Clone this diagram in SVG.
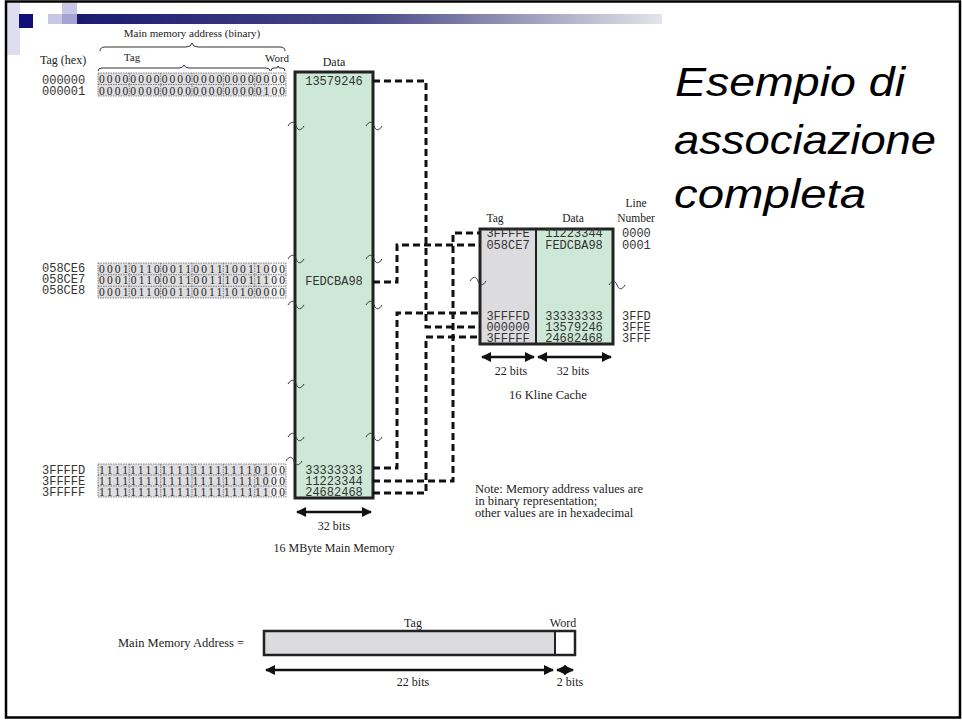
<svg xmlns="http://www.w3.org/2000/svg" width="962" height="720" viewBox="0 0 962 720">
<defs>
<linearGradient id="hbar" x1="0" y1="0" x2="1" y2="0">
<stop offset="0" stop-color="#1a1a70"/>
<stop offset="0.5" stop-color="#4a4a88"/>
<stop offset="1" stop-color="#e4e4ea"/>
</linearGradient>
<marker id="ah" viewBox="0 0 10 10" refX="9" refY="5" markerWidth="4" markerHeight="4" orient="auto-start-reverse" markerUnits="strokeWidth">
<path d="M0,0 L10,5 L0,10 Z" fill="#111"/>
</marker>
<path id="tl" d="M-8,1 c3,-5 6,-5 8,0 s5,5 8,0"/>
</defs>
<style>
.serif{font-family:"Liberation Serif","DejaVu Serif",serif;fill:#222}
.mono{font-family:"Liberation Mono","DejaVu Sans Mono",monospace;fill:#333;font-size:12px}
.bin{font-family:"Liberation Serif","DejaVu Serif",serif;fill:#222;font-size:11.5px}
.cell{fill:none;stroke:#555;stroke-width:0.7;stroke-dasharray:1.5 1}
.bfill{fill:#dedee0}
.wfill{fill:#f2f2f2}
.col{stroke:#222;stroke-width:3}
.green{fill:#cde8d6}
.gray{fill:#dcdcdf}
.dash{fill:none;stroke:#111;stroke-width:3;stroke-dasharray:7 4}
.arrow{stroke:#111;stroke-width:2.5;marker-start:url(#ah);marker-end:url(#ah);fill:none}
.tilde{fill:none;stroke:#333;stroke-width:1}
.brace{fill:none;stroke:#333;stroke-width:1}
.title{font-family:"Liberation Sans",Arial,sans-serif;font-style:italic;font-size:40px;fill:#000}
</style>
<rect x="0" y="0" width="962" height="720" fill="#fff"/>
<g id="header">
<rect x="7" y="3" width="13" height="52" fill="#dedef0"/>
<rect x="48" y="14" width="14" height="10" fill="#c8c8e6"/>
<rect x="62" y="3" width="15" height="11" fill="#c8c8e6"/>
<rect x="62" y="14" width="15" height="10" fill="#a4a4d4"/>
<rect x="19" y="14" width="14" height="14" fill="#10107a"/>
<rect x="77" y="14" width="585" height="10" fill="url(#hbar)"/>
</g>
<rect x="6" y="1.5" width="954" height="716" fill="none" stroke="#000" stroke-width="2.5"/>

<g id="title">
<text class="title" x="675" y="96" textLength="230" lengthAdjust="spacingAndGlyphs">Esempio di</text>
<text class="title" x="674" y="154" textLength="262" lengthAdjust="spacingAndGlyphs">associazione</text>
<text class="title" x="674" y="208" textLength="192" lengthAdjust="spacingAndGlyphs">completa</text>
</g>

<g id="labels-top">
<text class="serif" x="192" y="37" font-size="11" text-anchor="middle">Main memory address (binary)</text>
<path class="brace" d="M100,51 q0,-4 5,-4 H186 q5,0 6,-4 q1,4 6,4 H280 q5,0 5,4"/>
<text class="serif" x="40" y="64" font-size="12">Tag (hex)</text>
<text class="serif" x="132" y="61" font-size="11" text-anchor="middle">Tag</text>
<path class="brace" d="M98,71 q0,-3 4,-3 H179 q4,0 5,-3 q1,3 5,3 H266 q4,0 4,3"/>
<text class="serif" x="277" y="62" font-size="11" text-anchor="middle">Word</text>
<path class="brace" d="M271,71 q0,-3 3,-3 h2 q2,0 2,-2 q0,2 2,2 h2 q3,0 3,3"/>
<text class="serif" x="334" y="66" font-size="12" text-anchor="middle">Data</text>
</g>

<g id="addr-top">
<text class="mono" x="42" y="84">000000</text>
<text class="mono" x="42" y="95">000001</text>
<rect class="bfill" x="98" y="73" width="172" height="23"/>
<rect class="wfill" x="270" y="73" width="16" height="23"/>
<path class="cell" d="M98,73 H286 V96 H98 Z M98,84.5 H286 M129.3,73 V96 M160.7,73 V96 M192,73 V96 M223.3,73 V96 M254.7,73 V96"/>
<text class="bin" x="99" y="83" textLength="186" lengthAdjust="spacing">000000000000000000000000</text>
<text class="bin" x="99" y="94.5" textLength="186" lengthAdjust="spacing">000000000000000000000100</text>
</g>

<g id="addr-mid">
<text class="mono" x="42" y="272">058CE6</text>
<text class="mono" x="42" y="283">058CE7</text>
<text class="mono" x="42" y="294">058CE8</text>
<rect class="bfill" x="98" y="263" width="172" height="35"/>
<rect class="wfill" x="270" y="263" width="16" height="35"/>
<path class="cell" d="M98,263 H286 V298 H98 Z M98,274.7 H286 M98,286.3 H286 M129.3,263 V298 M160.7,263 V298 M192,263 V298 M223.3,263 V298 M254.7,263 V298"/>
<text class="bin" x="99" y="272.5" textLength="186" lengthAdjust="spacing">000101100011001110011000</text>
<text class="bin" x="99" y="284" textLength="186" lengthAdjust="spacing">000101100011001110011100</text>
<text class="bin" x="99" y="295.5" textLength="186" lengthAdjust="spacing">000101100011001110100000</text>
</g>

<g id="addr-bot">
<text class="mono" x="42" y="474">3FFFFD</text>
<text class="mono" x="42" y="485">3FFFFE</text>
<text class="mono" x="42" y="496">3FFFFF</text>
<rect class="bfill" x="98" y="464" width="172" height="33"/>
<rect class="wfill" x="270" y="464" width="16" height="33"/>
<path class="cell" d="M98,464 H286 V497 H98 Z M98,475 H286 M98,486 H286 M129.3,464 V497 M160.7,464 V497 M192,464 V497 M223.3,464 V497 M254.7,464 V497"/>
<text class="bin" x="99" y="473.5" textLength="186" lengthAdjust="spacing">111111111111111111110100</text>
<text class="bin" x="99" y="484.5" textLength="186" lengthAdjust="spacing">111111111111111111111000</text>
<text class="bin" x="99" y="495.5" textLength="186" lengthAdjust="spacing">111111111111111111111100</text>
</g>

<g id="main-memory">
<rect class="green col" x="295" y="72" width="78" height="426"/>
<text class="mono" x="334" y="85" text-anchor="middle">13579246</text>
<text class="mono" x="334" y="285" text-anchor="middle">FEDCBA98</text>
<text class="mono" x="334" y="474" text-anchor="middle">33333333</text>
<text class="mono" x="334" y="485" text-anchor="middle">11223344</text>
<text class="mono" x="334" y="496" text-anchor="middle">24682468</text>
<g class="tilde">
<use href="#tl" x="296" y="125"/><use href="#tl" x="374" y="125"/>
<use href="#tl" x="296" y="258"/><use href="#tl" x="374" y="258"/>
<use href="#tl" x="296" y="304"/><use href="#tl" x="374" y="304"/>
<use href="#tl" x="296" y="383"/>
<use href="#tl" x="296" y="436"/><use href="#tl" x="374" y="436"/>
<use href="#tl" x="294" y="460"/>
</g>
<line class="arrow" x1="297" y1="512" x2="371" y2="512"/>
<text class="serif" x="334" y="530" font-size="12" text-anchor="middle">32 bits</text>
<text class="serif" x="334" y="552" font-size="12" text-anchor="middle">16 MByte Main Memory</text>
</g>

<g id="cache">
<text class="serif" x="495" y="222" font-size="11.5" text-anchor="middle">Tag</text>
<text class="serif" x="573" y="222" font-size="11.5" text-anchor="middle">Data</text>
<text class="serif" x="636" y="207" font-size="11.5" text-anchor="middle">Line</text>
<text class="serif" x="636" y="222" font-size="11.5" text-anchor="middle">Number</text>
<rect class="gray" x="480" y="229" width="56" height="115"/>
<rect class="green" x="536" y="229" width="77" height="115"/>
<rect x="480" y="229" width="133" height="115" fill="none" stroke="#222" stroke-width="3"/>
<line x1="536" y1="229" x2="536" y2="344" stroke="#222" stroke-width="2"/>
<text class="mono" x="508" y="237" text-anchor="middle">3FFFFE</text>
<text class="mono" x="508" y="249" text-anchor="middle">058CE7</text>
<text class="mono" x="508" y="320" text-anchor="middle">3FFFFD</text>
<text class="mono" x="508" y="331" text-anchor="middle">000000</text>
<text class="mono" x="508" y="341.5" text-anchor="middle">3FFFFF</text>
<text class="mono" x="574" y="237" text-anchor="middle">11223344</text>
<text class="mono" x="574" y="249" text-anchor="middle">FEDCBA98</text>
<text class="mono" x="574" y="320" text-anchor="middle">33333333</text>
<text class="mono" x="574" y="331" text-anchor="middle">13579246</text>
<text class="mono" x="574" y="341.5" text-anchor="middle">24682468</text>
<text class="mono" x="622" y="237">0000</text>
<text class="mono" x="622" y="249">0001</text>
<text class="mono" x="622" y="320">3FFD</text>
<text class="mono" x="622" y="331">3FFE</text>
<text class="mono" x="622" y="341.5">3FFF</text>
<g class="tilde">
<use href="#tl" x="478" y="280"/><use href="#tl" x="617" y="284"/>
</g>
<line class="arrow" x1="482" y1="357" x2="534" y2="357"/>
<line class="arrow" x1="538" y1="357" x2="611" y2="357"/>
<text class="serif" x="511" y="375" font-size="12" text-anchor="middle">22 bits</text>
<text class="serif" x="573" y="375" font-size="12" text-anchor="middle">32 bits</text>
<text class="serif" x="548" y="399" font-size="12.5" text-anchor="middle">16 Kline Cache</text>
</g>

<g id="connectors">
<path class="dash" d="M373,81 H426 V327 H480"/>
<path class="dash" d="M373,282 H397 V245 H480"/>
<path class="dash" d="M373,468 H397 V313 H480"/>
<path class="dash" d="M373,481 H453 V233 H480"/>
<path class="dash" d="M373,493 H426 V337 H480"/>
</g>

<g id="note">
<text class="serif" x="475" y="493" font-size="12.5">Note: Memory address values are</text>
<text class="serif" x="475" y="505" font-size="12.5">in binary representation;</text>
<text class="serif" x="475" y="517" font-size="12.5">other values are in hexadecimal</text>
</g>

<g id="address-format">
<text class="serif" x="118" y="647" font-size="12.5">Main Memory Address =</text>
<text class="serif" x="413" y="627" font-size="12" text-anchor="middle">Tag</text>
<text class="serif" x="563" y="627" font-size="12" text-anchor="middle">Word</text>
<rect x="264" y="631" width="291" height="24" fill="#dcdcdf"/>
<rect x="555" y="631" width="20" height="24" fill="#fff"/>
<rect x="264" y="631" width="311" height="24" fill="none" stroke="#222" stroke-width="2.5"/>
<line x1="555" y1="631" x2="555" y2="655" stroke="#222" stroke-width="2"/>
<line class="arrow" x1="266" y1="670" x2="553" y2="670"/>
<line class="arrow" x1="557" y1="670" x2="573" y2="670"/>
<text class="serif" x="413" y="686" font-size="12" text-anchor="middle">22 bits</text>
<text class="serif" x="570" y="686" font-size="12" text-anchor="middle">2 bits</text>
</g>
</svg>
